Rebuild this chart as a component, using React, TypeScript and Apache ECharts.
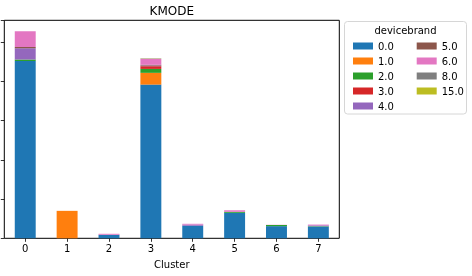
import React, { useEffect, useRef } from "react";
import * as echarts from "echarts";

const clusters = ["0", "1", "2", "3", "4", "5", "6", "7"];
const brands = ["0.0", "1.0", "2.0", "3.0", "4.0", "5.0", "6.0", "8.0", "15.0"];
const colors = ["#1f77b4", "#ff7f0e", "#2ca02c", "#d62728", "#9467bd", "#8c564b", "#e377c2", "#7f7f7f", "#bcbd22"];

const b00 = [4520, 0, 90, 3920, 320, 650, 310, 300];
const b10 = [0, 700, 0, 300, 0, 0, 0, 0];
const b20 = [40, 0, 0, 100, 0, 25, 30, 10];
const b30 = [0, 0, 0, 70, 0, 0, 0, 0];
const b40 = [290, 0, 0, 15, 30, 0, 0, 20];
const b50 = [30, 0, 0, 20, 0, 0, 0, 0];
const b60 = [400, 0, 25, 150, 20, 40, 5, 20];
const b80 = [0, 0, 0, 10, 0, 0, 0, 0];
const b150 = [0, 0, 0, 5, 0, 0, 0, 0];
const seriesValues = [b00, b10, b20, b30, b40, b50, b60, b80, b150];

const yMax = 5560;
const yInterval = 1000;

const FONT = "DejaVu Sans";

export default function App() {
  const ref = useRef<HTMLDivElement>(null);
  useEffect(() => {
    const chart = echarts.init(ref.current!, null, { renderer: "svg" });
    const legendCommon = {
      orient: "vertical" as const,
      top: 35,
      itemWidth: 20,
      itemHeight: 7,
      itemGap: 3,
      icon: "rect",
      selectedMode: false,
      textStyle: { fontFamily: FONT, fontSize: 10, color: "#000", lineHeight: 12 },
    };
    chart.setOption({
      animation: false,
      grid: {
        left: 4.3,
        right: 132.7,
        top: 20.3,
        bottom: 37.7,
        show: true,
        borderColor: "#000",
        borderWidth: 1,
        containLabel: false,
      },
      graphic: [
        {
          type: "text",
          x: 171.8,
          y: 11,
          style: { text: "KMODE", font: `12px "${FONT}"`, fill: "#000", textAlign: "center", textVerticalAlign: "middle" },
        },
        {
          type: "rect",
          shape: { x: 344.5, y: 21.5, width: 122, height: 92.5, r: 3 },
          style: { fill: "#fff", stroke: "#d6d6d6", lineWidth: 1 },
          z: -1,
        },
        {
          type: "text",
          x: 405.5,
          y: 30.7,
          style: { text: "devicebrand", font: `10px "${FONT}"`, fill: "#000", textAlign: "center", textVerticalAlign: "middle" },
        },
      ],
      legend: [
        { ...legendCommon, left: 348, data: brands.slice(0, 5) },
        { ...legendCommon, left: 411.7, data: brands.slice(5) },
      ],
      xAxis: {
        type: "category",
        data: clusters,
        name: "Cluster",
        nameLocation: "middle",
        nameGap: 21,
        nameTextStyle: { fontFamily: FONT, fontSize: 10, color: "#000" },
        axisLine: { show: false },
        axisTick: { show: true, alignWithLabel: true, length: 3.5, lineStyle: { color: "#000", width: 0.8 } },
        axisLabel: { fontFamily: FONT, fontSize: 10, color: "#000", margin: 5 },
        splitLine: { show: false },
      },
      yAxis: {
        type: "value",
        min: 0,
        max: yMax,
        interval: yInterval,
        axisLine: { show: false },
        axisTick: { show: true, length: 3.5, lineStyle: { color: "#000", width: 0.8 } },
        axisLabel: { show: false },
        splitLine: { show: false },
      },
      series: brands.map((b, i) => ({
        name: b,
        type: "bar",
        stack: "total",
        barWidth: "50%",
        data: seriesValues[i],
        itemStyle: { color: colors[i] },
      })),
    });
    return () => chart.dispose();
  }, []);
  return <div ref={ref} style={{ position: "fixed", left: 0, top: 0, width: 472, height: 276 }} />;
}
